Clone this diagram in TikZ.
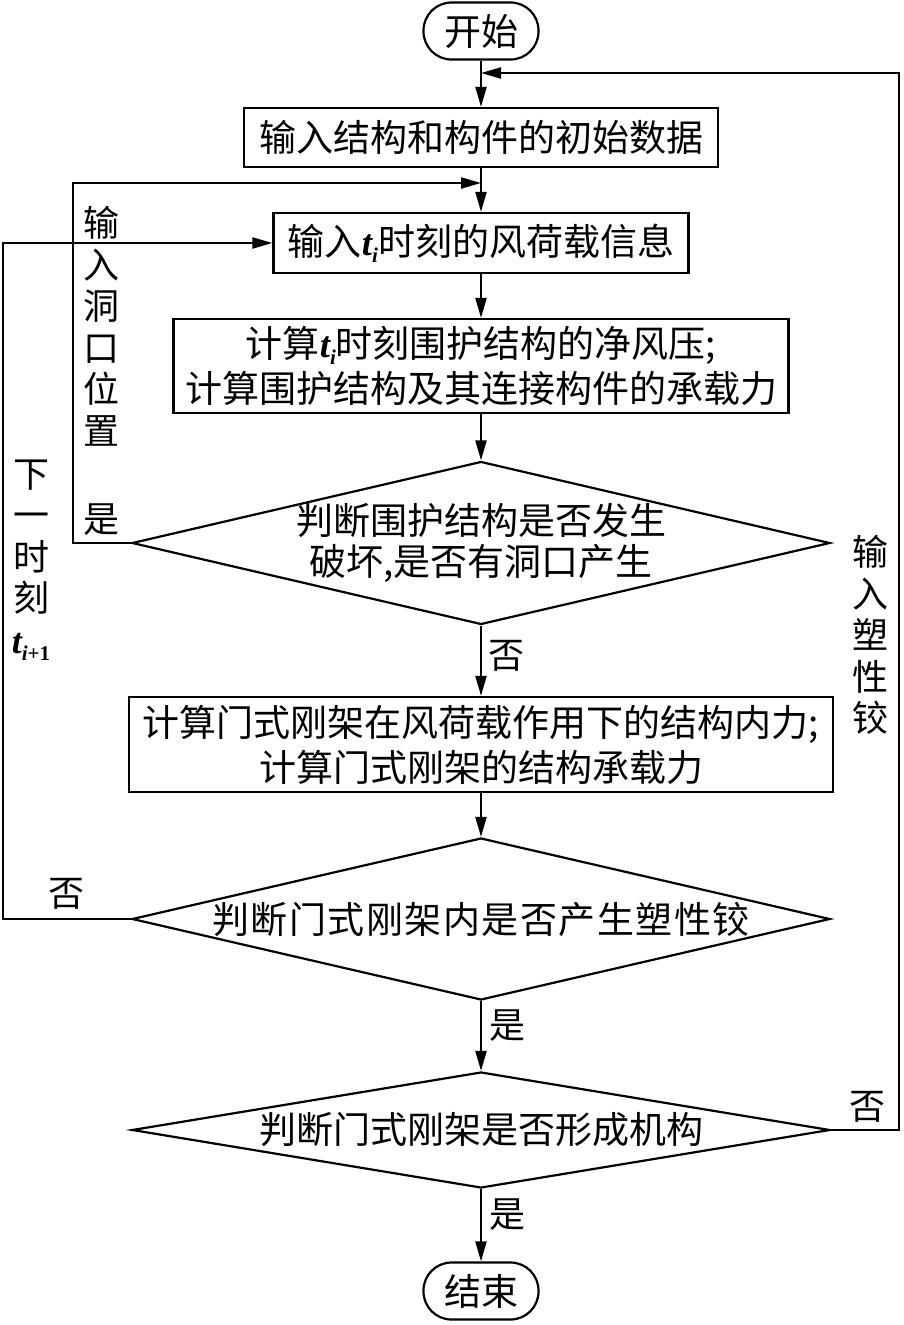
\documentclass[tikz,border=0pt]{standalone}
\usepackage{fontspec}
\setmainfont{Noto Sans CJK SC}
\newfontfamily\serifit{Liberation Serif}
\newfontfamily\cjkwide{Noto Sans CJK SC}[LetterSpace=4]
\usetikzlibrary{arrows.meta,shapes.geometric}
\newcommand{\tsub}[1]{{\serifit\bfseries\itshape t}\raisebox{-0.35ex}{\fontsize{21}{21}\selectfont\serifit\bfseries #1}}
\begin{document}
\begin{tikzpicture}[x=1pt,y=-1pt,
  line width=2.2pt,
  txt/.style={font=\fontsize{37}{45}\selectfont},
  lbl/.style={font=\fontsize{36}{41}\selectfont, inner sep=0pt},
  procbox/.style={draw, rectangle, inner sep=0pt, txt, align=center},
  term/.style={draw, rectangle, rounded corners=28pt, inner sep=0pt, minimum width=115pt, minimum height=57pt, txt},
  dec/.style={draw, diamond, inner sep=0pt},
  dtext/.style={font=\fontsize{37}{41}\selectfont, align=center, inner sep=0pt},
  arr/.style={-{Triangle[length=20pt,width=11pt]}},
  vlab/.style={font=\fontsize{36}{41.5}\selectfont, align=center, inner sep=0pt}
]
\useasboundingbox (0,0) rectangle (904,1325);

\node[term] (start) at (481,31) {开始};
\node[procbox, minimum width=474pt, minimum height=59pt] (b1) at (481,137.5) {输入结构和构件的初始数据};
\node[procbox, minimum width=415pt, minimum height=60pt] (b2) at (481,243) {输入\tsub{\itshape i}时刻的风荷载信息};
\node[procbox, minimum width=615pt, minimum height=94pt] (b3) at (481,366) {计算\tsub{\itshape i}时刻围护结构的净风压;\\计算围护结构及其连接构件的承载力};
\node[dec, minimum width=698pt, minimum height=163pt] (d1) at (481,543) {};
\node[dtext] (d1t) at (d1) {判断围护结构是否发生\\破坏,是否有洞口产生};
\node[procbox, minimum width=704pt, minimum height=95pt] (b4) at (481,744.5) {计算门式刚架在风荷载作用下的结构内力;\\计算门式刚架的结构承载力};
\node[dec, minimum width=698pt, minimum height=162pt] (d2) at (481,919) {};
\node[dtext] (d2t) at (d2) {\cjkwide 判断门式刚架内是否产生塑性铰};
\node[dec, minimum width=698pt, minimum height=116pt] (d3) at (481,1130) {};
\node[dtext] (d3t) at (d3) {判断门式刚架是否形成机构};
\node[term] (end) at (481,1291) {结束};

\coordinate (j1) at (481,73);
\coordinate (j2) at (481,183);
\coordinate (r1) at (899,1130);
\coordinate (r2) at (899,73);
\coordinate (l1) at (73,543);
\coordinate (l2) at (73,183);
\coordinate (o1) at (3,919);
\coordinate (o2) at (3,243);

\draw[arr] (start) -- (b1);
\draw[arr] (b1) -- (b2);
\draw[arr] (b2) -- (b3);
\draw[arr] (b3) -- (d1.north);
\draw[arr] (d1.south) -- (b4);
\draw[arr] (b4) -- (d2.north);
\draw[arr] (d2.south) -- (d3.north);
\draw[arr] (d3.south) -- (end);
\draw[arr] (d3.east) -- (r1) -- (r2) -- (j1);
\draw[arr] (d1.west) -- (l1) -- (l2) -- (j2);
\draw[arr] (d2.west) -- (o1) -- (o2) -- (b2.west);

\node[lbl] (y1) at (101,520) {是};
\node[lbl] (n1) at (506,656) {否};
\node[lbl] (n2) at (66,894) {否};
\node[lbl] (y2) at (507,1026) {是};
\node[lbl] (n3) at (867,1107) {否};
\node[lbl] (y3) at (507,1215) {是};

\node[vlab] (v1) at (101,326) {输\\入\\洞\\口\\位\\置};
\node[vlab] (v2) at (31,560) {下\\一\\时\\刻\\\tsub{\itshape i\upshape +1}};
\node[vlab] (v3) at (870,635) {输\\入\\塑\\性\\铰};
\end{tikzpicture}
\end{document}
